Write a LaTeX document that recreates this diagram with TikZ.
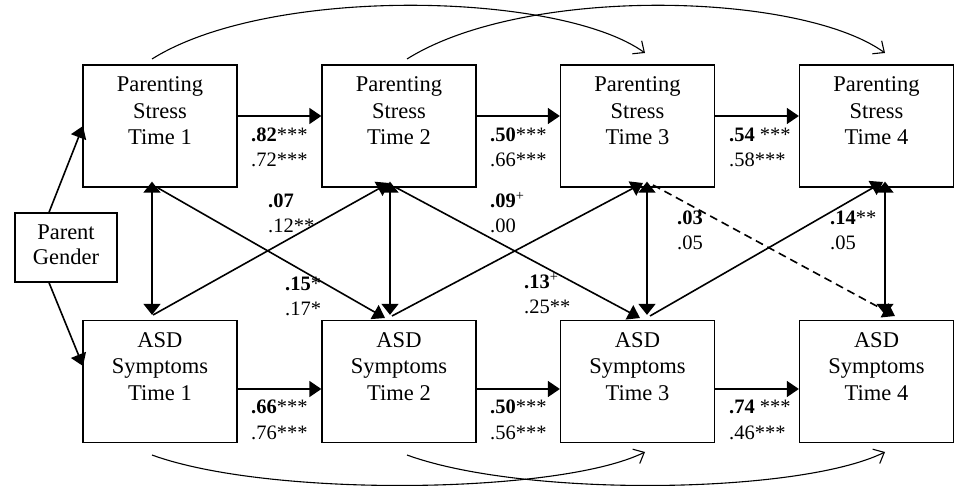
\documentclass[tikz,border=0pt]{standalone}
\usepackage{fontspec}
\setmainfont{Liberation Serif}
\usetikzlibrary{arrows.meta}
\newcommand{\twoline}[2]{\begin{tabular}[t]{@{}l@{}}#1\\#2\end{tabular}}
\newcommand{\boxtext}[3]{\begin{tabular}{@{}c@{}}#1\\#2\\#3\\ \mbox{}\end{tabular}}
\begin{document}
\begin{tikzpicture}[x=1pt,y=-1pt,
  box/.style={draw, line width=1.3pt, minimum width=154pt, minimum height=122pt, inner sep=0pt, font=\fontsize{22.5}{26.5}\selectfont},
  pgbox/.style={draw, line width=1.3pt, minimum width=102pt, minimum height=69pt, inner sep=0pt, font=\fontsize{22.5}{25}\selectfont},
  arr/.style={line width=1.6pt, -{Triangle[length=12pt,width=16pt]}},
  darr/.style={line width=1.6pt, {Triangle[length=11pt,width=17pt]}-{Triangle[length=11pt,width=17pt]}},
  curv/.style={line width=1.1pt, -{Straight Barb[length=9pt,width=16pt,line width=1.1pt]}},
  lbl/.style={anchor=base west, inner sep=0pt, font=\fontsize{20.5}{25}\selectfont},
]
\useasboundingbox (0,0) rectangle (954,486);

% boxes
\node[box] (ps1) at (160,126) {\boxtext{Parenting}{Stress}{Time 1}};
\node[box] (ps2) at (399,126) {\boxtext{Parenting}{Stress}{Time 2}};
\node[box] (ps3) at (637.5,126) {\boxtext{Parenting}{Stress}{Time 3}};
\node[box] (ps4) at (876.5,126) {\boxtext{Parenting}{Stress}{Time 4}};
\node[box] (asd1) at (160,381.5) {\boxtext{ASD}{Symptoms}{Time 1}};
\node[box] (asd2) at (399,381.5) {\boxtext{ASD}{Symptoms}{Time 2}};
\node[box] (asd3) at (637.5,381.5) {\boxtext{ASD}{Symptoms}{Time 3}};
\node[box] (asd4) at (876.5,381.5) {\boxtext{ASD}{Symptoms}{Time 4}};
\node[pgbox] (pg) at (66,247.5) {\begin{tabular}{@{}c@{}}Parent\\Gender\end{tabular}};

% autoregressive paths
\draw[arr] ([yshift=10pt]ps1.east) -- ([yshift=10pt]ps2.west);
\draw[arr] ([yshift=10pt]ps2.east) -- ([yshift=10pt]ps3.west);
\draw[arr] ([yshift=10pt]ps3.east) -- ([yshift=10pt]ps4.west);
\draw[arr] ([yshift=-7.5pt]asd1.east) -- ([yshift=-7.5pt]asd2.west);
\draw[arr] ([yshift=-7.5pt]asd2.east) -- ([yshift=-7.5pt]asd3.west);
\draw[arr] ([yshift=-7.5pt]asd3.east) -- ([yshift=-7.5pt]asd4.west);

% vertical correlations
\coordinate (c1t) at ([xshift=-8pt,yshift=6pt]ps1.south);
\coordinate (c1b) at ([xshift=-8pt,yshift=5pt]asd1.north);
\coordinate (c2t) at ([xshift=-9pt,yshift=6pt]ps2.south);
\coordinate (c2b) at ([xshift=-9pt,yshift=5pt]asd2.north);
\coordinate (c3t) at ([xshift=9.5pt,yshift=6pt]ps3.south);
\coordinate (c3b) at ([xshift=9.5pt,yshift=5pt]asd3.north);
\coordinate (c4t) at ([xshift=8.5pt,yshift=6pt]ps4.south);
\coordinate (c4b) at ([xshift=8.5pt,yshift=5pt]asd4.north);
\draw[darr] (c1t) -- (c1b);
\draw[darr] (c2t) -- (c2b);
\draw[darr] (c3t) -- (c3b);
\draw[darr] (c4t) -- (c4b);

% cross-lagged paths
\coordinate (x1s) at (158,188); \coordinate (x1e) at (385,318);
\coordinate (x2s) at (153,315); \coordinate (x2e) at (389,183);
\coordinate (x3s) at (395,187); \coordinate (x3e) at (640,318);
\coordinate (x4s) at (392,316); \coordinate (x4e) at (643,183);
\coordinate (x5s) at (650,316); \coordinate (x5e) at (883,182);
\coordinate (x6s) at (653,185); \coordinate (x6e) at (895,316);
\draw[arr] (x1s) -- (x1e);
\draw[arr] (x2s) -- (x2e);
\draw[arr] (x3s) -- (x3e);
\draw[arr] (x4s) -- (x4e);
\draw[arr] (x5s) -- (x5e);
\draw[arr, dash pattern=on 8pt off 5pt] (x6s) -- (x6e);

% parent gender
\coordinate (g1e) at (83,126);
\coordinate (g2e) at (83,366);
\draw[arr] ([xshift=-17pt]pg.north) -- (g1e);
\draw[arr] ([xshift=-17pt]pg.south) -- (g2e);

% lag-2 curves
\coordinate (u1s) at (152,59); \coordinate (u1e) at (645,53);
\coordinate (u2s) at (407,59); \coordinate (u2e) at (885,53);
\coordinate (v1s) at (152,455); \coordinate (v1e) at (645,452);
\coordinate (v2s) at (407,455); \coordinate (v2e) at (885,452);
\draw[curv] (u1s) .. controls (270,-15) and (560,-8) .. (u1e);
\draw[curv] (u2s) .. controls (525,-15) and (800,-8) .. (u2e);
\draw[curv] (v1s) .. controls (270,498) and (560,494) .. (v1e);
\draw[curv] (v2s) .. controls (525,498) and (800,494) .. (v2e);

% labels
\node[lbl] (l1) at (251,142) {\twoline{\textbf{.82}***}{.72***}};
\node[lbl] (l2) at (490,142) {\twoline{\textbf{.50}***}{.66***}};
\node[lbl] (l3) at (729,142) {\twoline{\textbf{.54} ***}{.58***}};
\node[lbl] (l4) at (268,208) {\twoline{\textbf{.07}}{.12**}};
\node[lbl] (l5) at (490,208) {\twoline{\textbf{.09}\textsuperscript{+}}{.00}};
\node[lbl] (l6) at (677,225) {\twoline{\textbf{.03}}{.05}};
\node[lbl] (l7) at (830,225) {\twoline{\textbf{.14}**}{.05}};
\node[lbl] (l8) at (285,291) {\twoline{\textbf{.15}*}{.17*}};
\node[lbl] (l9) at (524,289) {\twoline{\textbf{.13}\textsuperscript{+}}{.25**}};
\node[lbl] (l10) at (251,414) {\twoline{\textbf{.66}***}{.76***}};
\node[lbl] (l11) at (490,414) {\twoline{\textbf{.50}***}{.56***}};
\node[lbl] (l12) at (729,414) {\twoline{\textbf{.74} ***}{.46***}};
\end{tikzpicture}
\end{document}
